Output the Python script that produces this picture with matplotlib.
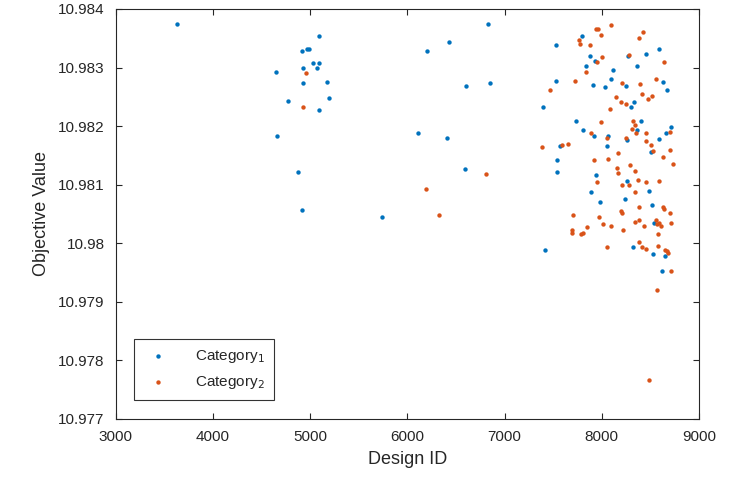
import matplotlib
matplotlib.use("Agg")
import matplotlib.pyplot as plt

plt.rcParams['font.family'] = ['Liberation Sans', 'DejaVu Sans']

# Category 1 (blue)
cat1_x = [3633, 4647, 4661, 4774, 4870, 4912, 4915, 4928, 4928, 4969,
          4990, 5025, 5066, 5089, 5089, 5096, 5175, 5189,
          6826, 6425, 6206, 6603, 6854, 6114, 6405, 6593, 5744,
          7799, 7532, 7874, 7926, 8265, 8453, 8587, 7840, 8111, 8361,
          8093, 7528, 7912, 8036, 8244, 8632, 8669, 7391, 8329, 8303,
          7738, 8402, 7810, 8361, 8714, 8655, 7919, 8059, 8262, 7573,
          8049, 8587, 8501, 7542, 7542, 7943, 8262, 7888, 8481, 7980,
          8237, 8515, 8532, 8319, 7412, 8525, 8652, 8614]
cat1_y = [10.98374, 10.98292, 10.98183, 10.98243, 10.98121, 10.98056, 10.98328, 10.98300, 10.98274, 10.98331,
          10.98332, 10.98307, 10.98300, 10.98308, 10.98354, 10.98228, 10.98276, 10.98248,
          10.98374, 10.98344, 10.98328, 10.98269, 10.98273, 10.98189, 10.98179, 10.98127, 10.98045,
          10.98354, 10.98339, 10.98319, 10.98311, 10.98319, 10.98323, 10.98332, 10.98302, 10.98296, 10.98302,
          10.98281, 10.98277, 10.98270, 10.98266, 10.98269, 10.98275, 10.98261, 10.98232, 10.98242, 10.98232,
          10.98209, 10.98208, 10.98194, 10.98194, 10.98198, 10.98188, 10.98183, 10.98183, 10.98176, 10.98166,
          10.98166, 10.98178, 10.98155, 10.98142, 10.98122, 10.98116, 10.98106, 10.98088, 10.98089, 10.98071,
          10.98075, 10.98065, 10.98035, 10.97994, 10.97988, 10.97982, 10.97978, 10.97952]

# Category 2 (orange)
cat2_x = [4956, 4925, 6813, 6192, 6323, 8481, 8563,
          8090, 7939, 7964, 7987, 8422, 8385, 7764, 7772, 7874, 8278,
          8642, 8001, 7949, 7833, 7727, 7471, 8556, 8395, 8206, 8149,
          8193, 8252, 8412, 8470, 8512, 8083, 7995, 8324, 8340, 8306,
          8354, 8450, 7892, 8056, 8252, 8450, 8508, 8700, 7384, 7594,
          7648, 8529, 8700, 8162, 8625, 8067, 7916, 8727, 8155, 8169,
          8285, 8344, 7946, 8206, 8275, 8368, 8450, 8591, 8340, 8632,
          8642, 8196, 8203, 8381, 8704, 7703, 7974, 8337, 8378, 8556,
          8566, 8587, 8611, 8714, 8015, 8093, 8432, 7844, 8221, 7692,
          7692, 7785, 7810, 8573, 8385, 8409, 8457, 8052, 8573, 8645,
          8666, 8683, 8710]
cat2_y = [10.98291, 10.98233, 10.98118, 10.98092, 10.98049, 10.97767, 10.97920,
          10.98372, 10.98366, 10.98365, 10.98356, 10.98360, 10.98351, 10.98347, 10.98341, 10.98339, 10.98322,
          10.98310, 10.98318, 10.98310, 10.98292, 10.98277, 10.98261, 10.98281, 10.98272, 10.98273, 10.98250,
          10.98242, 10.98237, 10.98255, 10.98247, 10.98252, 10.98229, 10.98207, 10.98209, 10.98202, 10.98195,
          10.98188, 10.98188, 10.98188, 10.98180, 10.98179, 10.98175, 10.98168, 10.98190, 10.98165, 10.98167,
          10.98170, 10.98158, 10.98159, 10.98154, 10.98147, 10.98144, 10.98142, 10.98136, 10.98129, 10.98120,
          10.98133, 10.98124, 10.98104, 10.98100, 10.98100, 10.98108, 10.98104, 10.98107, 10.98088, 10.98062,
          10.98059, 10.98055, 10.98052, 10.98062, 10.98051, 10.98049, 10.98045, 10.98037, 10.98040, 10.98040,
          10.98033, 10.98035, 10.98030, 10.98035, 10.98033, 10.98030, 10.98030, 10.98028, 10.98023, 10.98022,
          10.98018, 10.98016, 10.98018, 10.98016, 10.98002, 10.97994, 10.97991, 10.97994, 10.97996, 10.97989,
          10.97986, 10.97984, 10.97953]

x_ticks = [3000, 4000, 5000, 6000, 7000, 8000, 9000]
y_ticks = [10.977, 10.978, 10.979, 10.98, 10.981, 10.982, 10.983, 10.984]
y_tick_labels = ['10.977', '10.978', '10.979', '10.98', '10.981', '10.982', '10.983', '10.984']

blue = '#0072BD'
orange = '#D95319'
dark = '#262626'

fig = plt.figure(figsize=(7.37, 4.79), dpi=100)
ax = fig.add_axes([0.157, 0.1253, 0.7915, 0.856])

ax.scatter(cat1_x, cat1_y, s=10, color=blue, linewidths=0, label='Category$_1$')
ax.scatter(cat2_x, cat2_y, s=10, color=orange, linewidths=0, label='Category$_2$')

ax.set_xlim(3000, 9000)
ax.set_ylim(10.977, 10.984)
ax.set_xticks(x_ticks)
ax.set_xticklabels([str(t) for t in x_ticks])
ax.set_yticks(y_ticks)
ax.set_yticklabels(y_tick_labels)

for s in ax.spines.values():
    s.set_color(dark)
    s.set_linewidth(0.8)
ax.tick_params(direction='in', top=True, right=True, length=4, width=0.8,
               color=dark, labelcolor=dark, labelsize=11)
ax.tick_params(axis='x', pad=8)
ax.tick_params(axis='y', pad=8)

ax.set_xlabel('Design ID', fontsize=13, color=dark, labelpad=5)
ax.set_ylabel('Objective Value', fontsize=13, color=dark, labelpad=6)

leg = ax.legend(loc='lower left', bbox_to_anchor=(0.031, 0.046), borderaxespad=0,
                fontsize=11, frameon=True, fancybox=False, edgecolor='black',
                handletextpad=1.4, labelspacing=0.6, borderpad=0.6,
                handlelength=2.0, markerscale=1.0)
leg.get_frame().set_linewidth(0.8)
for t in leg.get_texts():
    t.set_color(dark)

fig.savefig('out.png', dpi=100)
